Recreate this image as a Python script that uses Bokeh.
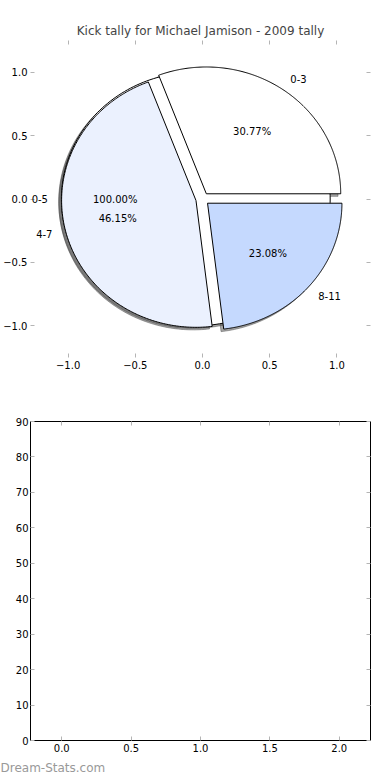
import numpy as np
from bokeh.plotting import figure
from bokeh.models import (ColumnDataSource, LabelSet, LinearAxis, Range1d,
                          FixedTicker, Title, PrintfTickFormatter)
from bokeh.layouts import column
from bokeh.core.properties import field, value
from bokeh.embed import file_html
from bokeh.resources import INLINE

# ---------------- data ----------------
title_text = "Kick tally for Michael Jamison - 2009 tally"
slice_labels = ["0-3", "4-7", "8-11"]
slice_counts = [4, 6, 3]
slice_colors = ["#ffffff", "#ebf1fe", "#c5d9fe"]
total_labels = ["0-5"]
total_counts = [1]
total_colors = ["#ffffff"]
explode = 0.05
pie_ticks = [-1.0, -0.5, 0.0, 0.5, 1.0]
pie_tick_text = ["\u22121.0", "\u22120.5", "0.0", "0.5", "1.0"]
bar_xticks = [0.0, 0.5, 1.0, 1.5, 2.0]
bar_yticks = [0, 10, 20, 30, 40, 50, 60, 70, 80, 90]
bar_x = []
bar_heights = []
watermark = "Dream-Stats.com"

FONT = "DejaVu Sans"
TICK_COLOR = "#b4b4b4"


def pie_geometry(counts, labels, colors):
    vals = np.asarray(counts, dtype=float)
    frac = vals / vals.sum()
    edges = np.concatenate([[0.0], np.cumsum(frac)]) * 360.0
    xs, ys, sxs, sys_ = [], [], [], []
    lab = dict(x=[], y=[], text=[], align=[])
    pct = dict(x=[], y=[], text=[])
    for i in range(len(vals)):
        t1, t2 = edges[i], edges[i + 1]
        mid = np.deg2rad((t1 + t2) / 2.0)
        cx, cy = explode * np.cos(mid), explode * np.sin(mid)
        th = np.deg2rad(np.linspace(t1, t2, 240))
        if t2 - t1 >= 359.999:
            px, py = cx + np.cos(th), cy + np.sin(th)
        else:
            px = np.concatenate([[cx], cx + np.cos(th)])
            py = np.concatenate([[cy], cy + np.sin(th)])
        xs.append(list(px)); ys.append(list(py))
        sxs.append(list(px - 0.02)); sys_.append(list(py - 0.02))
        lx, ly = cx + 1.1 * np.cos(mid), cy + 1.1 * np.sin(mid)
        lab["x"].append(lx); lab["y"].append(ly); lab["text"].append(labels[i])
        lab["align"].append("left" if lx > 0 else "right")
        pct["x"].append(cx + 0.6 * np.cos(mid)); pct["y"].append(cy + 0.6 * np.sin(mid))
        pct["text"].append("%.2f%%" % (frac[i] * 100))
    return (dict(xs=xs, ys=ys, color=list(colors)),
            dict(xs=sxs, ys=sys_), lab, pct)


def tick_only_axis(ticks):
    ax = LinearAxis(ticker=FixedTicker(ticks=ticks))
    ax.major_label_text_font_size = "1px"
    ax.major_label_text_color = None
    ax.major_label_standoff = 0
    ax.major_tick_in = 4
    ax.major_tick_out = 0
    ax.minor_tick_line_color = None
    ax.axis_line_color = None
    ax.major_tick_line_color = TICK_COLOR
    return ax


def style_axis(ax, ticks, overrides=None, standoff=3):
    ax.ticker = FixedTicker(ticks=ticks)
    if overrides:
        ax.major_label_overrides = overrides
    ax.major_label_text_font = FONT
    ax.major_label_text_font_size = "10px"
    ax.major_label_text_color = "#000000"
    ax.major_label_standoff = standoff
    ax.major_tick_in = 4
    ax.major_tick_out = 0
    ax.minor_tick_line_color = None
    ax.axis_line_color = None
    ax.major_tick_line_color = TICK_COLOR


# ---------------- pie figure ----------------
p1 = figure(width=390, height=392, output_backend="svg", toolbar_location=None,
            x_range=Range1d(-1.28, 1.25), y_range=Range1d(-1.25, 1.25),
            title=title_text, min_border_top=40, min_border_bottom=35,
            min_border_right=20, min_border_left=0)
p1.title.text_font = FONT
p1.title.text_font_size = "12px"
p1.title.text_font_style = "normal"
p1.title.align = "center"
p1.title.standoff = 5
p1.outline_line_color = None
p1.grid.visible = False
p1.background_fill_color = "#ffffff"
p1.border_fill_color = "#ffffff"

overrides = {t: s for t, s in zip(pie_ticks, pie_tick_text)}
style_axis(p1.xaxis[0], pie_ticks, overrides, standoff=3)
style_axis(p1.yaxis[0], pie_ticks, overrides, standoff=3)
p1.add_layout(tick_only_axis(pie_ticks), "above")
p1.add_layout(tick_only_axis(pie_ticks), "right")

tot_w, tot_s, tot_lab, tot_pct = pie_geometry(total_counts, total_labels, total_colors)
sl_w, sl_s, sl_lab, sl_pct = pie_geometry(slice_counts, slice_labels, slice_colors)

# shadows (below every wedge)
for sh in (tot_s, sl_s):
    p1.patches(xs="xs", ys="ys", source=ColumnDataSource(sh),
               fill_color="#4d4d4d", fill_alpha=0.5,
               line_color="#4d4d4d", line_alpha=0.5, line_width=1)
# wedges
for w in (tot_w, sl_w):
    p1.patches(xs="xs", ys="ys", source=ColumnDataSource(w),
               fill_color="color", line_color="#000000", line_width=1)

for lab in (tot_lab, sl_lab):
    p1.add_layout(LabelSet(x="x", y="y", text="text", source=ColumnDataSource(lab),
                           text_align=field("align"), text_baseline="middle",
                           text_font=value(FONT), text_font_size=value("10px"),
                           text_color="#000000"))
for pct in (tot_pct, sl_pct):
    p1.add_layout(LabelSet(x="x", y="y", text="text", source=ColumnDataSource(pct),
                           text_align="center", text_baseline="middle",
                           text_font=value(FONT), text_font_size=value("10px"),
                           text_color="#000000"))

# ---------------- empty bar figure ----------------
p2 = figure(width=390, height=388, output_backend="svg", toolbar_location=None,
            x_range=Range1d(-0.225, 2.225), y_range=Range1d(0, 90),
            min_border_top=29, min_border_right=20, min_border_left=0,
            min_border_bottom=40)
p2.outline_line_color = "#000000"
p2.outline_line_width = 1
p2.grid.visible = False
style_axis(p2.xaxis[0], bar_xticks)
p2.xaxis[0].formatter = PrintfTickFormatter(format="%.1f")
style_axis(p2.yaxis[0], bar_yticks, standoff=2)
p2.add_layout(tick_only_axis(bar_xticks), "above")
p2.add_layout(tick_only_axis(bar_yticks), "right")
p2.vbar(x=bar_x, top=bar_heights, width=0.45, fill_color="#c5d9fe", line_color="#000000")
p2.add_layout(Title(text=watermark, align="left", text_color="#999999",
                    text_font=FONT, text_font_size="12px", text_font_style="normal",
                    offset=-30, standoff=8), "below")

layout = column(p1, p2, spacing=0)
open("out.html", "w").write(file_html(layout, INLINE))
